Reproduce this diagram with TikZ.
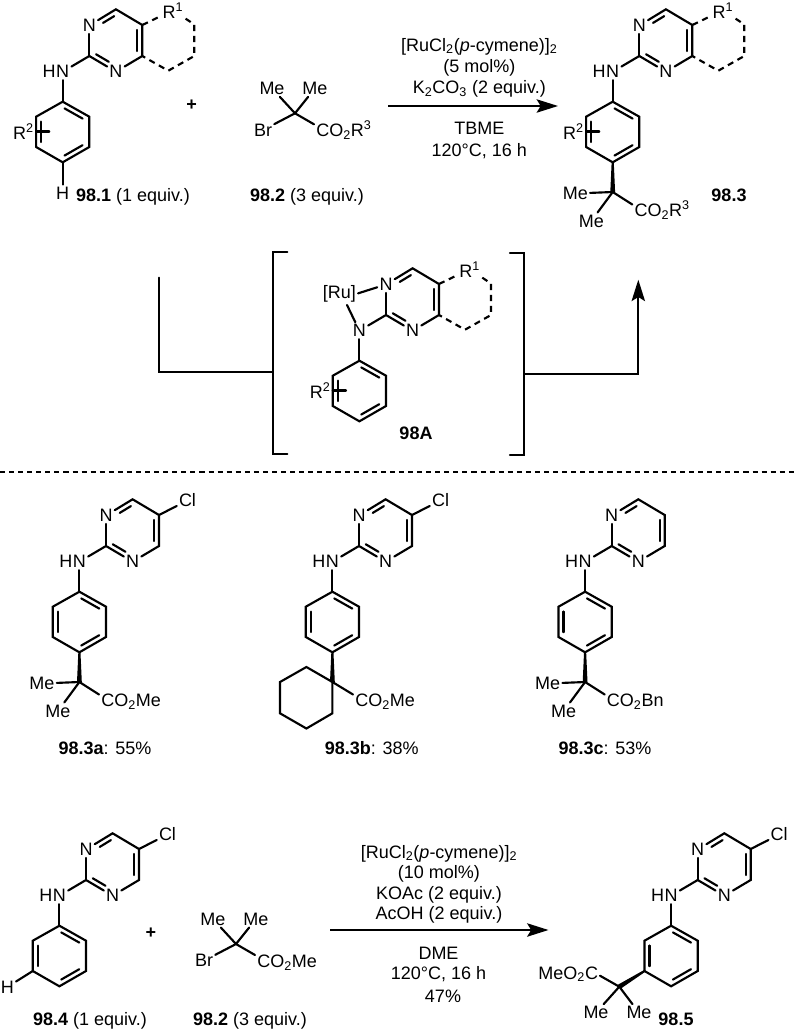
\documentclass[tikz,border=0pt]{standalone}
\usepackage{fontspec}
\setmainfont{Liberation Sans}
\usetikzlibrary{positioning,calc,arrows.meta}

\tikzset{
  bond/.style={line width=1.6pt,line cap=round},
  dashbond/.style={line width=1.6pt,dash pattern=on 4.6pt off 3.6pt},
  atom/.style={inner sep=1.5pt},
  txt/.style={inner sep=0.75pt,anchor=base},
  txtw/.style={inner sep=0.75pt,anchor=base west},
  txte/.style={inner sep=0.75pt,anchor=base east},
  rarrow/.style={line width=1.6pt,-{Stealth[length=16pt,width=10pt,inset=3pt]}},
}

% inner line of a double bond, on the left of #1 -> #2
\newcommand{\dbl}[4]{\draw[bond] ($(#1)!#3!(#2)!3.7pt!-90:(#2)$) -- ($(#2)!#4!(#1)!3.7pt!90:(#1)$);}
% filled wedge, narrow at #1
\newcommand{\wedgebond}[2]{\fill ($(#2)!1.8pt!90:(#1)$) -- ($(#2)!1.8pt!-90:(#1)$) -- ($(#1)!0.8pt!90:(#2)$) -- ($(#1)!0.8pt!-90:(#2)$) -- cycle;}

% pyrimidine, origin on its C2
\newcommand{\corering}{
  \coordinate (c2) at (0,0);
  \node[atom] (n1) at (0,-30.5) {N};
  \coordinate (c6) at (26.6,-46.7);
  \coordinate (c5) at (53,-31);
  \coordinate (c4) at (53,0);
  \node[atom] (n3) at (26.6,15.7) {N};
  \draw[bond] (c2) -- (n1);
  \draw[bond] (n1) -- (c6) -- (c5) -- (c4) -- (n3) -- (c2);
  \dbl{c6}{n1}{0.16}{0.42}
  \dbl{c4}{c5}{0.16}{0.16}
  \dbl{c2}{n3}{0.16}{0.36}
}
% N-aryl below the pyrimidine
\newcommand{\arylring}{
  \node[atom] (nh) at (-26.6,15.7) {N};
  \coordinate (ar1) at (-26.6,45.7);
  \coordinate (ar2) at (0,60.7);
  \coordinate (ar3) at (0,91);
  \coordinate (ar4) at (-26.6,106.3);
  \coordinate (ar5) at (-53.2,91);
  \coordinate (ar6) at (-53.2,60.7);
  \draw[bond] (c2) -- (nh);
  \draw[bond] (nh) -- (ar1);
  \draw[bond] (ar1) -- (ar2) -- (ar3) -- (ar4) -- (ar5) -- (ar6) -- cycle;
  \dbl{ar2}{ar1}{0.16}{0.16}
  \dbl{ar4}{ar3}{0.16}{0.16}
  \dbl{ar6}{ar5}{0.16}{0.16}
}
\newcommand{\hofnh}{\node[atom,left=-3pt of nh] (hh) {H};}
% dashed ring with R1, and the R2 on the aryl
\newcommand{\fusedring}{
  \node[atom,anchor=base] (r1) at (83.7,-38) {R\textsuperscript{1}};
  \coordinate (fr1) at (105,-31.5);
  \coordinate (fr2) at (105,0);
  \coordinate (fr3) at (79,14.7);
  \draw[dashbond] (c5) -- (r1);
  \draw[dashbond] (r1) -- (fr1) -- (fr2) -- (fr3) -- (c4);
  \node[atom,anchor=base] (r2) at (-65.8,83.4) {R\textsuperscript{2}};
  \coordinate (r2e) at (-40,77);
  \draw[bond] (r2) -- (r2 -| r2e);
}
\newcommand{\clatom}{
  \node[atom] (cl) at (81.5,-45.5) {Cl};
  \draw[bond] (c5) -- (cl);
}
% C(Me)2 ester under the aryl
\newcommand{\gemester}[1]{
  \coordinate (cq) at (-26.6,136);
  \coordinate (ce) at (-7,148.5);
  \node[atom] (me1) at (-64,137.5) {Me};
  \node[atom] (me2) at (-48,165) {Me};
  \node[txtw] (ester) at (-6,160.4) {#1};
  \wedgebond{ar4}{cq}
  \draw[bond] (cq) -- (me1);
  \draw[bond] (cq) -- (me2);
  \draw[bond] (cq) -- (ce);
}
% bromo ester, origin on its quaternary carbon
\newcommand{\bromoester}[1]{
  \coordinate (cq) at (0,0);
  \coordinate (ce) at (19,11);
  \node[atom] (me1) at (-23,-25) {Me};
  \node[atom] (me2) at (20,-25) {Me};
  \node[atom] (br) at (-32,16.7) {Br};
  \node[txtw] (ester) at (20,23.6) {#1};
  \draw[bond] (cq) -- (me1);
  \draw[bond] (cq) -- (me2);
  \draw[bond] (cq) -- (br);
  \draw[bond] (cq) -- (ce);
}

\begin{document}
\begin{tikzpicture}[x=0.75pt,y=0.75pt,yscale=-1,xscale=1,every node/.append style={font=\fontsize{13.5}{16}\selectfont}]
  \useasboundingbox (0,0) rectangle (796,1029);

  %Reactant 98.1
  \begin{scope}[shift={(89.3,56)},name prefix=aa-]
    \corering
    \arylring
    \hofnh
    \fusedring
    \node[atom] (ha) at (-26.6,137) {H};
    \draw[bond] (ar4) -- (ha);
  \end{scope}
  \node[txt] (plusa) at (191.7,110) {\textbf{+}};
  %Reactant 98.2
  \begin{scope}[shift={(295,113.3)},name prefix=ab-]
    \bromoester{CO\textsubscript{2}R\textsuperscript{3}}
  \end{scope}
  %Product 98.3
  \begin{scope}[shift={(639.3,56)},name prefix=ac-]
    \corering
    \arylring
    \hofnh
    \fusedring
    \gemester{CO\textsubscript{2}R\textsuperscript{3}}
  \end{scope}

  %Intermediate 98A
  \begin{scope}[shift={(386,315)},name prefix=ad-]
    \corering
    \arylring
    \fusedring
    \node[atom,anchor=base] (ru) at (-46.7,-17) {[Ru]};
    \draw[bond] (ru.east) -- (n1);
    \coordinate (rub) at (-39,-10);
    \draw[bond] (rub) -- (nh);
  \end{scope}
  \draw[bond] (287.3,251.7) -- (272.7,251.7) -- (272.7,454) -- (287.3,454);
  \draw[bond] (510,252.7) -- (524,252.7) -- (524,455) -- (510,455);
  \coordinate (fromtop) at (159.3,277.7);
  \coordinate (brl) at (272.7,371.7);
  \coordinate (brr) at (524,374);
  \coordinate (totop) at (638.3,279.7);
  \draw[bond] (fromtop) |- (brl);
  \draw[rarrow] (brr) -| (totop);

  %Top arrow
  \coordinate (arra) at (388,106);
  \coordinate (arrb) at (558,106);
  \draw[rarrow] (arra) -- (arrb);

  % Text Node
  \node[txt] (lblaa) at (133,201) {\textbf{98.1} (1 equiv.)};
  \node[txt] (lblab) at (307,201) {\textbf{98.2} (3 equiv.)};
  \node[txt] (lblac) at (729,201.4) {\textbf{98.3}};
  \node[txt] (lblad) at (416,439) {\textbf{98A}};
  \node[txt] (cona) at (479.3,51) {[RuCl\textsubscript{2}(\textit{p}-cymene)]\textsubscript{2}};
  \node[txt] (conb) at (479.3,72.4) {(5 mol\%)};
  \node[txt] (conc) at (479.3,93.7) {K\textsubscript{2}CO\textsubscript{3} (2 equiv.)};
  \node[txt] (cond) at (479.3,134.7) {TBME};
  \node[txt] (cone) at (479.3,156) {120°C, 16 h};

  %Divider
  \draw[line width=1.15pt,dash pattern=on 3.8pt off 3pt] (0,472) -- (796,472);

  %Product 98.3a
  \begin{scope}[shift={(106,546)},name prefix=ba-]
    \corering
    \arylring
    \hofnh
    \clatom
    \gemester{CO\textsubscript{2}Me}
  \end{scope}
  %Product 98.3b
  \begin{scope}[shift={(359,546)},name prefix=bb-]
    \corering
    \arylring
    \hofnh
    \clatom
    \coordinate (cq) at (-26.6,136);
    \coordinate (cy2) at (-52.6,121);
    \coordinate (cy3) at (-79,136);
    \coordinate (cy4) at (-79,167.3);
    \coordinate (cy5) at (-52.6,182.5);
    \coordinate (cy6) at (-26.6,167.3);
    \coordinate (ce) at (-6,148.5);
    \node[txtw] (ester) at (-5,160.4) {CO\textsubscript{2}Me};
    \wedgebond{ar4}{cq}
    \draw[bond] (cq) -- (cy2) -- (cy3) -- (cy4) -- (cy5) -- (cy6) -- cycle;
    \draw[bond] (cq) -- (ce);
  \end{scope}
  %Product 98.3c
  \begin{scope}[shift={(611.7,546)},name prefix=bc-]
    \corering
    \arylring
    \hofnh
    \gemester{CO\textsubscript{2}Bn}
  \end{scope}
  \node[txt] (lblba) at (105,754) {\textbf{98.3a}: 55\%};
  \node[txt] (lblbb) at (371.7,754) {\textbf{98.3b}: 38\%};
  \node[txt] (lblbc) at (605,754) {\textbf{98.3c}: 53\%};

  %Reactant 98.4
  \begin{scope}[shift={(86,880)},name prefix=ca-]
    \corering
    \arylring
    \hofnh
    \clatom
    \node[atom] (hb) at (-78.7,107) {H};
    \draw[bond] (ar5) -- (hb);
  \end{scope}
  \node[txt] (plusb) at (151,938) {\textbf{+}};
  %Reactant 98.2
  \begin{scope}[shift={(236,944)},name prefix=cb-]
    \bromoester{CO\textsubscript{2}Me}
  \end{scope}
  %Product 98.5
  \begin{scope}[shift={(697.7,880)},name prefix=cc-]
    \corering
    \arylring
    \hofnh
    \clatom
    \coordinate (cq) at (-78.4,106.7);
    \coordinate (ce) at (-97.7,95.7);
    \node[atom] (me1) at (-101.7,132.7) {Me};
    \node[atom] (me2) at (-58.7,132.7) {Me};
    \node[txte] (ester) at (-98.4,99.1) {MeO\textsubscript{2}C};
    \wedgebond{ar5}{cq}
    \draw[bond] (cq) -- (me1);
    \draw[bond] (cq) -- (me2);
    \draw[bond] (cq) -- (ce);
  \end{scope}

  %Bottom arrow
  \coordinate (arrc) at (330,930);
  \coordinate (arrd) at (548.5,930);
  \draw[rarrow] (arrc) -- (arrd);

  % Text Node
  \node[txt] (lblca) at (90,1025) {\textbf{98.4} (1 equiv.)};
  \node[txt] (lblcb) at (250,1025) {\textbf{98.2} (3 equiv.)};
  \node[txt] (lblcc) at (676,1025.7) {\textbf{98.5}};
  \node[txt] (cof) at (439,858) {[RuCl\textsubscript{2}(\textit{p}-cymene)]\textsubscript{2}};
  \node[txt] (cog) at (439,878) {(10 mol\%)};
  \node[txt] (coh) at (439,899) {KOAc (2 equiv.)};
  \node[txt] (coi) at (439,919.7) {AcOH (2 equiv.)};
  \node[txt] (coj) at (438.5,959.7) {DME};
  \node[txt] (cok) at (438.5,979.7) {120°C, 16 h};
  \node[txt] (col) at (443,1002.4) {47\%};
\end{tikzpicture}
\end{document}
